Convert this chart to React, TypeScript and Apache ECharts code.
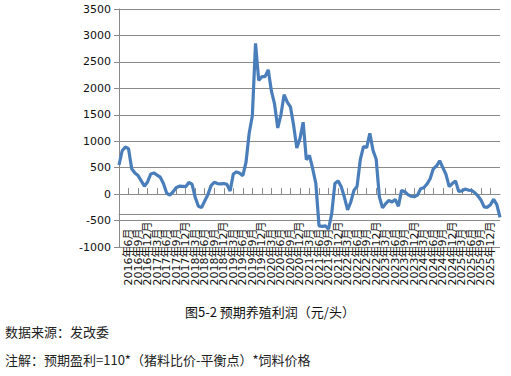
import React, { useEffect, useRef } from "react";
import * as echarts from "echarts";

// Monthly categories from 2016-03 to 2026-03
const startYear = 2016;
const startMonth = 3;
const monthCount = 121;
const categories: string[] = [];
for (let i = 0; i < monthCount; i++) {
  const t = startYear * 12 + (startMonth - 1) + i;
  const y = Math.floor(t / 12);
  const m = (t % 12) + 1;
  categories.push(`${y}年${m}月`);
}

// 预期养殖利润 (元/头)
const profit2016 = [550, 820, 890, 860, 480, 400, 350, 250, 150, 230];
const profit2017 = [380, 400, 360, 320, 200, 20, -20, 40, 120, 150, 145, 140];
const profit2018 = [220, 190, -60, -230, -255, -130, -10, 160, 225, 200, 195, 200];
const profit2019 = [185, 60, 380, 420, 395, 350, 600, 1150, 1480, 2850, 2150, 2220];
const profit2020 = [2220, 2350, 1950, 1700, 1250, 1500, 1880, 1740, 1650, 1300, 870, 1050];
const profit2021 = [1360, 650, 730, 480, 200, -600, -610, -600, -660, -370, 200, 250];
const profit2022 = [140, -60, -300, -150, 70, 150, 650, 900, 880, 1150, 830, 660];
const profit2023 = [-50, -260, -180, -120, -150, -100, -230, 70, 45, -10, -40, -50];
const profit2024 = [-20, 100, 120, 190, 290, 480, 530, 630, 500, 370, 140, 200];
const profit2025 = [250, 50, 60, 95, 76, 70, 30, -30, -110, -240, -250, -200];
const profit2026 = [-100, -200, -440];
const profit = [
  ...profit2016,
  ...profit2017,
  ...profit2018,
  ...profit2019,
  ...profit2020,
  ...profit2021,
  ...profit2022,
  ...profit2023,
  ...profit2024,
  ...profit2025,
  ...profit2026,
];

const yMin = -1000;
const yMax = 3500;
const yStep = 500;

const captionTitle = "图5-2 预期养殖利润（元/头）";
const captionSource = "数据来源：发改委";
const captionNote = "注解：预期盈利=110*（猪料比价-平衡点）*饲料价格";

const gridColor = "#8a8a8a";
const lineColor = "#4a7ebb";

export default function App() {
  const ref = useRef<HTMLDivElement>(null);
  useEffect(() => {
    if (!ref.current) return;
    const chart = echarts.init(ref.current, undefined, { renderer: "svg" });
    chart.setOption({
      animation: false,
      backgroundColor: "#ffffff",
      grid: { left: 119, right: 11, top: 9, bottom: 129, containLabel: false },
      xAxis: [
        {
          type: "category",
          data: categories,
          boundaryGap: false,
          offset: -26.5,
          axisLine: { show: true, lineStyle: { color: gridColor, width: 1 } },
          axisTick: {
            show: true,
            inside: true,
            length: 6,
            interval: 2,
            lineStyle: { color: gridColor },
          },
          axisLabel: {
            interval: 2,
            rotate: 90,
            align: "left",
            margin: 65,
            fontSize: 11,
            fontFamily: "DejaVu Sans, Noto Sans CJK SC",
            color: "#111",
          },
          splitLine: { show: false },
        },
        {
          type: "category",
          data: categories,
          boundaryGap: false,
          position: "bottom",
          offset: -32.5,
          axisLine: { show: true, lineStyle: { color: gridColor, width: 1 } },
          axisTick: { show: false },
          axisLabel: { show: false },
          splitLine: { show: false },
        },
      ],
      yAxis: {
        type: "value",
        min: yMin,
        max: yMax,
        interval: yStep,
        axisLine: { show: true, lineStyle: { color: gridColor, width: 1 } },
        axisTick: { show: true, inside: false, length: 5, lineStyle: { color: gridColor } },
        axisLabel: {
          margin: 8,
          fontSize: 11,
          fontFamily: "DejaVu Sans",
          color: "#111",
          formatter: (v: number) => String(v),
        },
        splitLine: { show: true, lineStyle: { color: gridColor, width: 1 } },
      },
      series: [
        {
          type: "line",
          data: profit,
          xAxisIndex: 0,
          symbol: "none",
          smooth: false,
          lineStyle: { color: lineColor, width: 3.2 },
        },
      ],
      graphic: [
        {
          type: "text",
          left: 278 - 93,
          top: 305,
          style: {
            text: captionTitle,
            fontSize: 13,
            fontFamily: "Noto Sans CJK SC",
            fill: "#111",
          },
        },
        {
          type: "text",
          left: 5,
          top: 325,
          style: {
            text: captionSource,
            fontSize: 13,
            fontFamily: "Noto Sans CJK SC",
            fill: "#222",
          },
        },
        {
          type: "text",
          left: 5,
          top: 353,
          style: {
            text: captionNote,
            fontSize: 13,
            fontFamily: "Noto Sans CJK SC",
            fill: "#222",
          },
        },
      ],
    });
    return () => chart.dispose();
  }, []);
  return (
    <div
      ref={ref}
      style={{ position: "absolute", left: 0, top: 0, width: 511, height: 376 }}
    />
  );
}
